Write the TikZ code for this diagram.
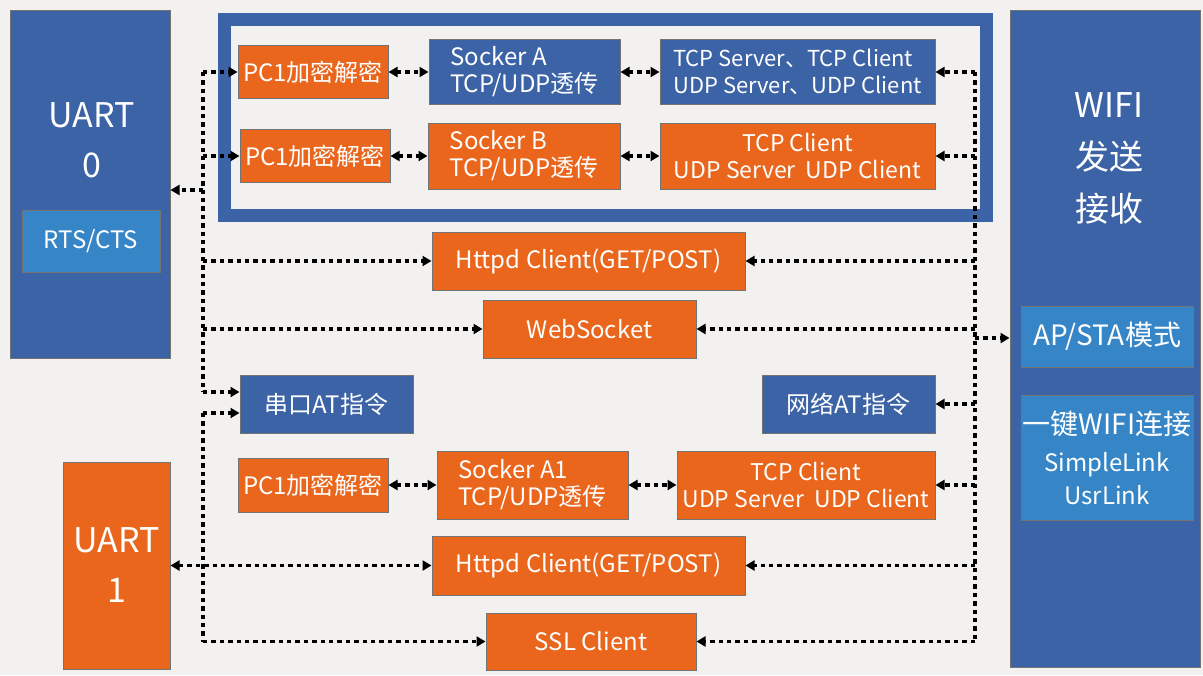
\documentclass[tikz,border=0pt]{standalone}
\usepackage{fontspec}
\setmainfont{Noto Sans CJK SC}
\usetikzlibrary{arrows.meta}
\definecolor{ublue}{RGB}{59,99,166}
\definecolor{uorange}{RGB}{233,102,28}
\definecolor{ulight}{RGB}{53,133,199}
\definecolor{ubg}{RGB}{242,241,239}
\begin{document}
\begin{tikzpicture}[x=0.5pt,y=-0.5pt,
  box/.style={draw=black!55, line width=0.5pt, text=white, inner sep=0pt,
              align=center, font=\fontsize{12}{13.5}\selectfont},
  obox/.style={box, fill=uorange},
  bbox/.style={box, fill=ublue},
  lbox/.style={box, fill=ulight},
  link/.style={line width=1.8pt, dash pattern=on 2.2pt off 2pt,
               >={Triangle[length=4.5pt,width=5pt]}}]

\fill[ubg] (0,0) rectangle (1203,675);
\useasboundingbox (0,0) rectangle (1203,675);

\node[bbox, minimum width=80pt, minimum height=174pt] (uart0) at (90,184) {};
\node[text=white, align=center, font=\fontsize{17}{25}\selectfont] (uart0txt) at (92,140) {UART\\0};
\node[lbox, minimum width=69pt, minimum height=31pt] (rts) at (91,241) {RTS/CTS};
\node[obox, minimum width=53.5pt, minimum height=103.5pt,
      font=\fontsize{17}{25}\selectfont] (uart1) at (116.5,565.5) {UART\\1};

\node[draw=ublue, line width=6.5pt, minimum width=381pt, minimum height=98pt] (group) at (605.5,117.5) {};

\node[obox, minimum width=75pt, minimum height=26.5pt] (pc1a) at (313,72) {PC1加密解密};
\node[bbox, minimum width=95.5pt, minimum height=32.5pt, align=left] (socka) at (524.5,72) {Socker A\\TCP/UDP透传};
\node[bbox, minimum width=137.5pt, minimum height=32.5pt, align=left,
      font=\fontsize{11}{13.5}\selectfont] (tcpsrv) at (797.5,72) {TCP Server、TCP Client\\UDP Server、UDP Client};

\node[obox, minimum width=75pt, minimum height=26.5pt] (pc1b) at (315,156) {PC1加密解密};
\node[obox, minimum width=96pt, minimum height=33pt, align=left] (sockb) at (524,156) {Socker B\\TCP/UDP透传};
\node[obox, minimum width=137.5pt, minimum height=33pt,
      font=\fontsize{11.5}{13.5}\selectfont] (tcpcli) at (797.5,156) {TCP Client\\UDP Server~ UDP Client};

\node[obox, minimum width=156.5pt, minimum height=29pt] (http1) at (588.5,261) {Httpd Client(GET/POST)};
\node[obox, minimum width=106.5pt, minimum height=29pt] (websock) at (589.5,329) {WebSocket};
\node[bbox, minimum width=86.5pt, minimum height=29pt] (uartat) at (326.5,404) {串口AT指令};
\node[bbox, minimum width=86.5pt, minimum height=29pt] (netat) at (848.5,404) {网络AT指令};

\node[obox, minimum width=75pt, minimum height=27pt] (pc1c) at (313,485) {PC1加密解密};
\node[obox, minimum width=95.5pt, minimum height=34pt, align=left] (sockc) at (532.5,485) {Socker A1\\TCP/UDP透传};
\node[obox, minimum width=129pt, minimum height=34pt,
      font=\fontsize{11.5}{13.5}\selectfont] (tcpcli2) at (806,485) {TCP Client\\UDP Server~ UDP Client};
\node[obox, minimum width=156.5pt, minimum height=29.5pt] (http2) at (588.5,565.5) {Httpd Client(GET/POST)};
\node[obox, minimum width=105pt, minimum height=28.5pt] (ssl) at (591,641.5) {SSL Client};

\node[bbox, minimum width=95pt, minimum height=328.5pt] (wifi) at (1105,338.5) {};
\node[text=white, align=center, font=\fontsize{17}{26}\selectfont] (wifitxt) at (1109,158) {WIFI\\发送\\接收};
\node[lbox, minimum width=86pt, minimum height=30.5pt, font=\fontsize{14}{17}\selectfont] (apsta) at (1107,336.5) {AP/STA模式};
\node[lbox, minimum width=86pt, minimum height=62.5pt, font=\fontsize{12}{16.5}\selectfont] (onekey) at (1107,457.5)
  {{\fontsize{14}{17}\selectfont 一键WIFI连接}\\[2pt]SimpleLink\\UsrLink};

\coordinate (lbus) at (203,0);
\coordinate (rbus) at (975,0);
\coordinate (u0in) at (203,190);
\coordinate (wfin) at (975,338);

\draw[link] (pc1a -| lbus) -- ([yshift=6pt]uartat.west -| lbus);
\draw[link] ([yshift=-4.5pt]uartat.west -| lbus) -- (ssl -| lbus);
\draw[link] (tcpsrv -| rbus) -- (ssl -| rbus);

\draw[link,->] (pc1a -| lbus) -- (pc1a);
\draw[link,->] (pc1b -| lbus) -- (pc1b);
\draw[link,->] (u0in) -- (u0in -| uart0.east);
\draw[link,->] (http1 -| lbus) -- (http1);
\draw[link,->] (websock -| lbus) -- (websock);
\draw[link,->] ([yshift=6pt]uartat.west -| lbus) -- ([yshift=6pt]uartat.west);
\draw[link,->] ([yshift=-4.5pt]uartat.west -| lbus) -- ([yshift=-4.5pt]uartat.west);
\draw[link,<->] (uart1) -- (http2);
\draw[link,->] (ssl -| lbus) -- (ssl);

\draw[link,<->] (pc1a) -- (socka);
\draw[link,<->] (socka) -- (tcpsrv);
\draw[link,<->] (pc1b) -- (sockb);
\draw[link,<->] (sockb) -- (tcpcli);
\draw[link,<->] (pc1c) -- (sockc);
\draw[link,<->] (sockc) -- (tcpcli2);

\draw[link,->] (tcpsrv -| rbus) -- (tcpsrv);
\draw[link,->] (tcpcli -| rbus) -- (tcpcli);
\draw[link,->] (http1 -| rbus) -- (http1);
\draw[link,->] (websock -| rbus) -- (websock);
\draw[link,->] (netat -| rbus) -- (netat);
\draw[link,->] (tcpcli2 -| rbus) -- (tcpcli2);
\draw[link,->] (http2 -| rbus) -- (http2);
\draw[link,->] (ssl -| rbus) -- (ssl);
\draw[link,->] (wfin) -- (wfin -| wifi.west);
\end{tikzpicture}
\end{document}
